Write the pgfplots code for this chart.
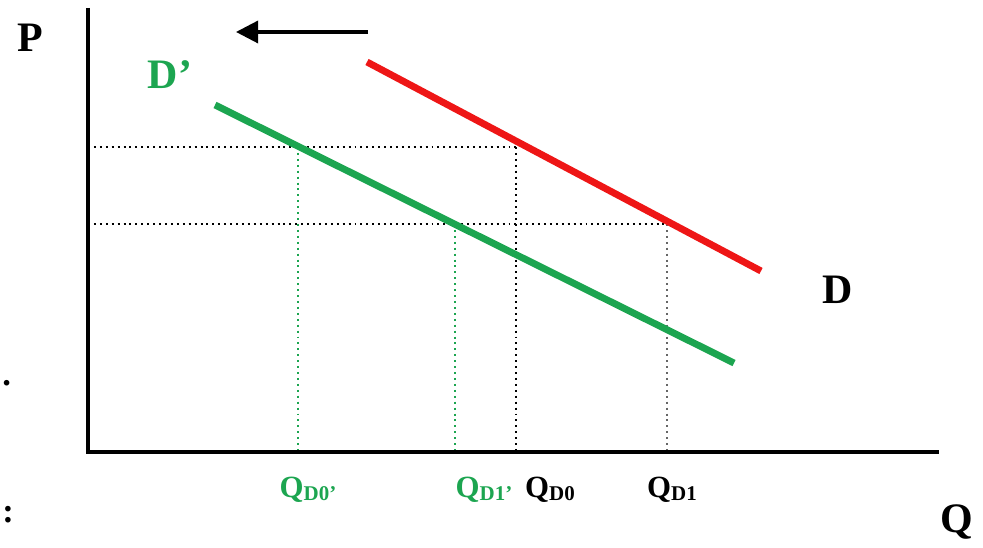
\documentclass[border=0pt]{standalone}
\usepackage{pgfplots}
\pgfplotsset{compat=1.18}
\usepackage{fontspec}
\setmainfont{Liberation Serif}
\usetikzlibrary{arrows.meta}
\definecolor{dgreen}{RGB}{28,165,80}
\definecolor{dred}{RGB}{238,22,22}
\begin{document}
\begin{tikzpicture}
\begin{axis}[
  scale only axis, width=14cm, height=7.677cm,
  xmin=0, xmax=983, ymin=0, ymax=539,
  axis lines=none, clip=false,
  font=\bfseries,
]
\addplot[draw=none, forget plot] coordinates {(0,0) (983,539)};
% dotted guides
\tikzset{dots/.style={line width=0.8pt, dash pattern=on 0.8pt off 1.6pt}}
\addplot[dots, black] coordinates {(88,392) (516,392)};
\addplot[dots, black] coordinates {(88,315) (667,315)};
\addplot[dots, dgreen] coordinates {(298,392) (298,87)};
\addplot[dots, dgreen] coordinates {(455,315) (455,87)};
\addplot[dots, black] coordinates {(516,392) (516,87)};
\addplot[dots, black!60] coordinates {(667,315) (667,87)};
% demand curves
\addplot[dred, line width=2.8pt] coordinates {(367,477) (761,268)};
\addplot[dgreen, line width=2.8pt] coordinates {(215,434) (734,176)};
% axes
\addplot[black, line width=1.8pt] coordinates {(88,531) (88,87) (939,87)};
% arrow
\addplot[black, line width=1.3pt, -{Triangle[length=9pt,width=9pt]}] coordinates {(368,507) (236,507)};
% labels
\node[font=\fontsize{17}{17}\bfseries\selectfont] at (axis cs:30,501) {P};
\node[font=\fontsize{17}{17}\bfseries\selectfont, text=dgreen] at (axis cs:170,464) {D’};
\node[font=\fontsize{17}{17}\bfseries\selectfont] at (axis cs:838,249) {D};
\node[font=\fontsize{17}{17}\bfseries\selectfont] at (axis cs:957,17) {Q};
\node[font=\fontsize{12.5}{12}\bfseries\selectfont, text=dgreen] at (axis cs:308,49) {Q{\fontsize{8.5}{8}\selectfont\raisebox{-0.3ex}{D0’}}};
\node[font=\fontsize{12.5}{12}\bfseries\selectfont, text=dgreen] at (axis cs:484,49) {Q{\fontsize{8.5}{8}\selectfont\raisebox{-0.3ex}{D1’}}};
\node[font=\fontsize{12.5}{12}\bfseries\selectfont] at (axis cs:550,49) {Q{\fontsize{8.5}{8}\selectfont\raisebox{-0.3ex}{D0}}};
\node[font=\fontsize{12.5}{12}\bfseries\selectfont] at (axis cs:672,49) {Q{\fontsize{8.5}{8}\selectfont\raisebox{-0.3ex}{D1}}};
% stray marks at the left edge
\node[font=\fontsize{14}{14}\bfseries\selectfont, anchor=west, inner sep=0pt] at (axis cs:2,156) {.};
\node[font=\fontsize{14}{14}\bfseries\selectfont, anchor=west, inner sep=0pt] at (axis cs:2,24) {:};
\end{axis}
\end{tikzpicture}
\end{document}
